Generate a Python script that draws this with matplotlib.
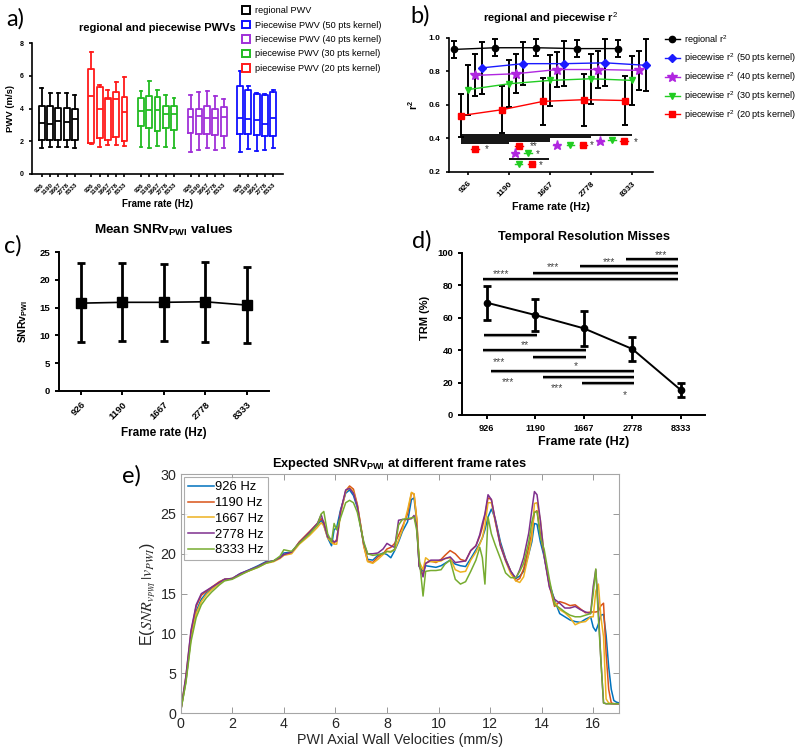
import numpy as np
import matplotlib
matplotlib.use('Agg')
import matplotlib.pyplot as plt
from matplotlib.patches import Patch
from matplotlib.lines import Line2D

plt.rcParams['font.family'] = ['Liberation Sans', 'DejaVu Sans']
plt.rcParams['mathtext.fontset'] = 'custom'
plt.rcParams['mathtext.rm'] = 'Liberation Sans'
plt.rcParams['mathtext.it'] = 'Liberation Sans:italic'
plt.rcParams['mathtext.bf'] = 'Liberation Sans:bold'

# ======================= DATA =======================
frame_rates = ['926', '1190', '1667', '2778', '8333']

# (a) box plots; axis order: regional, 20, 30, 40, 50 pts kernel (5 frame rates each)
a_groups = ['regional PWV', 'piecewise PWV (20 pts kernel)', 'piecewise PWV (30 pts kernel)',
            'Piecewise PWV (40 pts kernel)', 'Piecewise PWV (50 pts kernel)']
a_whishi = [5.25, 4.95, 4.95, 4.95, 4.80, 7.45, 5.42, 5.12, 5.62, 5.90,
            5.05, 5.66, 5.15, 4.85, 4.65, 4.81, 5.00, 5.08, 4.75, 4.60,
            6.27, 5.36, 4.95, 4.91, 5.12]
a_q3 = [4.14, 4.14, 4.05, 4.05, 4.00, 6.44, 5.32, 4.65, 5.00, 4.71,
        4.67, 4.75, 4.71, 4.14, 4.14, 3.94, 4.00, 4.14, 4.00, 4.10,
        5.36, 5.12, 4.91, 4.81, 5.02]
a_med = [3.13, 3.05, 3.25, 3.20, 3.33, 4.75, 4.00, 4.55, 4.60, 3.80,
         3.84, 3.90, 3.90, 3.65, 3.65, 3.49, 3.53, 3.43, 3.43, 3.49,
         3.39, 3.35, 3.29, 3.05, 3.39]
a_q1 = [2.07, 2.07, 2.10, 2.07, 2.07, 1.87, 2.21, 2.10, 2.23, 2.03,
        2.92, 2.82, 2.64, 2.82, 2.68, 2.52, 2.42, 2.42, 2.38, 2.31,
        2.44, 2.44, 2.38, 2.31, 2.31]
a_whislo = [1.60, 1.66, 1.66, 1.65, 1.60, 1.83, 1.66, 1.77, 1.77, 1.70,
            1.66, 1.56, 1.70, 1.66, 1.56, 1.36, 1.46, 1.60, 1.46, 1.56,
            1.36, 1.52, 1.42, 1.46, 1.56]

# (b) r^2 means and SD
b_labels = ['regional r$^2$', 'piecewise r$^2$ (50 pts kernel)', 'piecewise r$^2$ (40 pts kernel)',
            'piecewise r$^2$ (30 pts kernel)', 'piecewise r$^2$ (20 pts kernel)']
b_regional = [0.93, 0.94, 0.94, 0.935, 0.935]
b_regional_sd = [0.05, 0.05, 0.05, 0.05, 0.05]
b_pw50 = [0.82, 0.845, 0.845, 0.85, 0.835]
b_pw50_sd = [0.155, 0.13, 0.135, 0.14, 0.155]
b_pw40 = [0.775, 0.785, 0.81, 0.81, 0.805]
b_pw40_sd = [0.125, 0.115, 0.105, 0.11, 0.115]
b_pw30 = [0.69, 0.725, 0.745, 0.755, 0.745]
b_pw30_sd = [0.15, 0.14, 0.15, 0.15, 0.145]
b_pw20 = [0.535, 0.57, 0.62, 0.63, 0.625]
b_pw20_sd = [0.13, 0.14, 0.14, 0.155, 0.145]
# significance bars (y, from index, to index)
b_sig_bars = [(0.422, -0.18, 4.0), (0.409, -0.18, 3.0), (0.396, -0.18, 2.0),
              (0.383, -0.18, 2.0), (0.370, -0.18, 1.0), (0.278, 1.0, 1.96)]
# significance symbols (index, y, series-marker, colour)
b_sig_marks = [(0.17, 0.335, 's', 'red'),
               (1.24, 0.355, 's', 'red'),
               (2.16, 0.360, '*', '#b026e0'), (2.49, 0.360, 'v', '#22cc22'), (2.81, 0.360, 's', 'red'),
               (3.22, 0.385, '*', '#b026e0'), (3.50, 0.387, 'v', '#22cc22'), (3.79, 0.385, 's', 'red'),
               (1.15, 0.310, '*', '#b026e0'), (1.46, 0.310, 'v', '#22cc22'),
               (1.23, 0.246, 'v', '#22cc22'), (1.55, 0.246, 's', 'red')]
b_sig_text = [(0.45, 0.335, '*'), (1.59, 0.355, '**'), (3.02, 0.357, '*'),
              (4.08, 0.377, '*'), (1.69, 0.308, '*'), (1.76, 0.241, '*')]

# (c) mean SNRv_PWI
c_mean = [15.8, 15.95, 15.95, 16.05, 15.45]
c_upper = [22.95, 23.05, 22.9, 23.25, 22.35]
c_lower = [8.85, 9.0, 9.05, 8.85, 8.7]

# (d) temporal resolution misses
d_mean = [69.2, 61.6, 53.4, 40.7, 15.4]
d_sd = [10.5, 10.0, 10.6, 7.3, 4.1]
d_sig_bars = [(96.1, 2.87, 3.95), (91.8, 1.92, 3.95), (87.7, 0.96, 3.95), (83.6, -0.08, 3.95),
              (49.3, -0.05, 1.03), (40.0, -0.08, 2.04), (35.9, 0.96, 2.04),
              (27.3, 0.08, 3.04), (23.6, 1.15, 3.04), (19.5, 1.96, 3.04)]
d_sig_text = [(3.6, 98.5, '***'), (2.52, 94.5, '***'), (1.37, 91.0, '***'), (0.29, 87.0, '****'),
              (0.79, 43.0, '**'), (0.25, 32.5, '***'), (1.83, 30.0, '*'),
              (0.44, 20.5, '***'), (1.44, 16.5, '***'), (2.85, 12.5, '*')]

# (e) expected SNR vs velocity
e_labels = ['926 Hz', '1190 Hz', '1667 Hz', '2778 Hz', '8333 Hz']
e_vel = [0, 0.2, 0.4, 0.6, 0.8, 1.0, 1.2, 1.5, 1.7, 2.0,
         2.3, 2.6, 3.0, 3.3, 3.6, 3.85, 4.0, 4.3, 4.6, 5.0,
         5.3, 5.45, 5.55, 5.7, 5.85, 5.95, 6.05, 6.2, 6.4, 6.55,
         6.7, 6.85, 7.0, 7.1, 7.25, 7.45, 7.65, 7.85, 8.0, 8.15,
         8.3, 8.45, 8.6, 8.8, 8.95, 9.05, 9.15, 9.25, 9.4, 9.5,
         9.7, 9.9, 10.1, 10.25, 10.45, 10.65, 10.85, 11.05, 11.25, 11.45,
         11.6, 11.7, 11.8, 11.92, 12.05, 12.2, 12.4, 12.6, 12.8, 13.0,
         13.15, 13.3, 13.5, 13.62, 13.72, 13.82, 13.95, 14.1, 14.3, 14.5,
         14.7, 14.9, 15.1, 15.3, 15.5, 15.7, 15.9, 16.0, 16.1, 16.2,
         16.3, 16.4, 16.5, 16.6, 16.7, 16.8, 16.9, 17.0]
e_926 = [0.3, 4.0, 9.6, 12.8, 14.3, 15.1, 15.6, 16.4, 16.8, 16.9,
         17.5, 17.9, 18.5, 19.0, 19.1, 19.6, 20.1, 20.2, 21.4, 22.6,
         23.6, 24.2, 23.6, 22.0, 21.0, 23.0, 23.3, 25.5, 27.6, 28.0,
         27.3, 25.8, 23.0, 21.2, 19.3, 19.2, 19.8, 20.1, 19.9, 19.5,
         20.4, 21.5, 22.8, 24.0, 26.8, 27.0, 24.2, 18.4, 17.8, 18.5,
         18.4, 18.3, 18.5, 18.8, 19.2, 18.7, 18.5, 18.4, 19.4, 20.5,
         21.3, 22.0, 23.0, 24.6, 25.6, 24.4, 21.5, 19.4, 17.8, 16.9,
         17.2, 17.8, 20.0, 21.5, 23.8, 23.7, 21.5, 19.6, 16.3, 14.2,
         12.5, 12.1, 11.7, 11.5, 11.4, 11.8, 12.1, 10.8, 10.3, 11.2,
         12.3, 12.4, 9.8, 5.8, 3.0, 1.6, 1.4, 1.3]
e_1190 = [0.3, 4.5, 10.2, 13.4, 14.8, 15.3, 15.8, 16.5, 16.8, 16.9,
          17.4, 17.8, 18.4, 18.9, 19.1, 19.5, 19.9, 20.1, 21.5, 22.8,
          23.8, 24.4, 24.0, 22.2, 21.5, 21.3, 21.8, 25.2, 27.9, 28.5,
          28.1, 26.2, 23.2, 21.0, 19.1, 18.9, 19.6, 20.0, 20.6, 20.8,
          21.3, 22.3, 23.4, 25.0, 27.6, 27.5, 24.5, 18.5, 17.3, 18.8,
          19.1, 18.9, 19.3, 19.8, 20.4, 20.0, 19.3, 19.1, 20.4, 21.0,
          22.2, 23.3, 24.8, 27.0, 26.8, 24.2, 21.2, 19.3, 17.8, 16.6,
          16.9, 18.1, 20.8, 22.6, 25.2, 25.4, 22.5, 19.8, 16.0, 13.4,
          14.0, 13.8, 13.5, 13.6, 13.1, 12.6, 12.7, 12.7, 12.7, 12.8,
          13.5, 13.8, 7.5, 3.0, 1.3, 1.2, 1.2, 1.2]
e_1667 = [0.3, 4.0, 9.4, 12.5, 14.0, 14.9, 15.5, 16.3, 16.7, 16.9,
          17.4, 17.8, 18.3, 18.8, 19.0, 19.4, 19.8, 20.0, 21.2, 22.3,
          23.3, 23.9, 23.5, 22.0, 21.4, 21.2, 21.2, 25.0, 27.8, 28.3,
          27.8, 26.1, 23.2, 21.0, 19.0, 18.8, 19.3, 19.9, 20.3, 20.3,
          20.5, 21.7, 23.0, 25.5, 27.7, 27.5, 24.5, 19.0, 18.0, 19.5,
          19.0, 19.0, 19.1, 19.4, 19.5, 18.0, 17.7, 17.8, 19.2, 20.2,
          21.2, 22.0, 23.5, 26.4, 26.4, 24.0, 21.0, 19.1, 17.5, 16.6,
          16.4, 17.1, 20.0, 22.0, 26.3, 26.4, 24.2, 19.8, 16.0, 14.0,
          13.0, 12.6, 12.0, 11.1, 11.4, 11.5, 12.1, 12.1, 15.3, 16.2,
          12.0, 9.6, 1.8, 1.3, 1.2, 1.2, 1.2, 1.2]
e_2778 = [0.3, 4.6, 10.4, 13.6, 15.0, 15.4, 15.8, 16.4, 16.8, 16.9,
          17.5, 17.9, 18.4, 18.9, 19.1, 19.5, 19.9, 20.2, 21.4, 22.7,
          23.8, 24.9, 23.8, 22.1, 21.8, 21.5, 21.6, 25.3, 28.0, 28.2,
          27.6, 26.0, 23.0, 21.3, 20.0, 20.0, 20.1, 20.6, 21.3, 21.0,
          20.8, 24.2, 24.3, 24.3, 24.4, 24.8, 23.5, 18.5, 17.1, 18.8,
          19.2, 19.2, 19.2, 19.4, 19.6, 18.9, 19.0, 19.1, 20.4, 21.0,
          22.4, 23.8, 25.0, 27.4, 26.8, 24.2, 21.0, 19.2, 17.8, 16.9,
          18.0, 19.5, 22.6, 25.5, 27.8, 27.4, 24.2, 19.6, 15.8, 14.3,
          13.8, 13.2, 13.2, 13.4, 13.0, 12.7, 12.5, 15.9, 18.0, 13.0,
          6.5, 1.3, 1.2, 1.2, 1.2, 1.2, 1.2, 1.2]
e_8333 = [0.3, 3.8, 9.0, 12.0, 13.6, 14.5, 15.2, 16.1, 16.6, 16.8,
          17.3, 17.8, 18.3, 18.8, 19.1, 19.7, 20.5, 20.3, 21.3, 22.5,
          23.6, 25.0, 25.3, 22.5, 21.5, 23.8, 23.0, 24.5, 26.4, 26.7,
          26.4, 25.2, 23.0, 21.5, 20.0, 19.8, 19.9, 20.0, 20.3, 20.2,
          20.6, 23.6, 24.3, 24.4, 24.5, 24.6, 23.0, 19.5, 14.7, 17.8,
          17.9, 17.9, 18.0, 18.7, 19.2, 16.8, 16.2, 16.5, 17.8, 19.2,
          20.8, 19.5, 16.2, 24.6, 22.5, 21.1, 19.4, 17.6, 17.0, 17.0,
          17.8, 18.8, 21.5, 24.0, 25.2, 25.3, 22.1, 20.5, 16.8, 13.6,
          13.2, 12.7, 12.3, 12.1, 12.1, 12.3, 12.5, 15.0, 18.1, 12.0,
          6.5, 1.3, 1.2, 1.2, 1.2, 1.2, 1.2, 1.2]

# ======================= FIGURE =======================
W, H = 800, 754
fig = plt.figure(figsize=(W / 100, H / 100), dpi=100)


def px_axes(l, t, r, b):
    return fig.add_axes([l / W, 1 - b / H, (r - l) / W, (b - t) / H])


def prism(ax, lw=1.3, ticklen=3):
    for s in ['top', 'right']:
        ax.spines[s].set_visible(False)
    for s in ['left', 'bottom']:
        ax.spines[s].set_linewidth(lw)
    ax.tick_params(direction='out', width=lw, length=ticklen)


def bold_ticks(ax):
    for lab in ax.get_xticklabels() + ax.get_yticklabels():
        lab.set_fontweight('bold')


def panel_label(x, y, s):
    fig.text(x / W, 1 - y / H, s, fontsize=17, family='Lato', ha='center', va='center')


# ---------------- (a) ----------------
axA = px_axes(32, 43, 283, 174)
a_colors = ['black', '#ff1a1a', '#22bb22', '#a030d8', '#1010ff']
for g in range(5):
    stats = []
    for j in range(5):
        k = g * 5 + j
        stats.append(dict(med=a_med[k], q1=a_q1[k], q3=a_q3[k],
                          whislo=a_whislo[k], whishi=a_whishi[k], fliers=[]))
    c = a_colors[g]
    lp = dict(color=c, lw=1.3)
    axA.bxp(stats, positions=[g * 6 + j for j in range(5)], widths=0.72, showfliers=False,
            boxprops=lp, whiskerprops=lp, capprops=lp, medianprops=lp)
prism(axA, lw=1.2, ticklen=2.5)
axA.set_xlim(-1.2, 29.2)
axA.set_ylim(0, 8)
axA.set_yticks([0, 2, 4, 6, 8])
axA.set_xticks([g * 6 + j for g in range(5) for j in range(5)])
axA.set_xticklabels(frame_rates * 5, rotation=45, ha='right', rotation_mode='anchor', fontsize=4.6)
axA.tick_params(axis='y', labelsize=5)
bold_ticks(axA)
axA.set_ylabel('PWV (m/s)', fontsize=6.8, fontweight='bold', labelpad=3)
axA.set_xlabel('Frame rate (Hz)', fontsize=7, fontweight='bold', labelpad=2)
axA.set_title('regional and piecewise PWVs', fontsize=8, fontweight='bold', pad=9, x=0.5)
leg_order = [0, 4, 3, 2, 1]
a_handles = [Patch(facecolor='white', edgecolor=a_colors[i], lw=1.4) for i in leg_order]
fig.legend(a_handles, [a_groups[i] for i in leg_order], loc='upper left',
           bbox_to_anchor=(242 / W, 1 - 6 / H), fontsize=6.6, frameon=False,
           handlelength=0.9, handleheight=0.9, handletextpad=0.5, labelspacing=0.6,
           borderpad=0, borderaxespad=0)
panel_label(15, 19, 'a)')

# ---------------- (b) ----------------
axB = px_axes(449, 37.7, 653, 171.7)
xb = np.arange(5)
b_series = [(b_regional, b_regional_sd, 'black', 'o', -0.34, 4.5),
            (b_pw50, b_pw50_sd, '#1a1aff', 'D', 0.34, 4.0),
            (b_pw40, b_pw40_sd, '#b026e0', '*', 0.17, 7.0),
            (b_pw30, b_pw30_sd, '#22cc22', 'v', 0.0, 5.0),
            (b_pw20, b_pw20_sd, 'red', 's', -0.17, 4.5)]
b_handles = []
for (vals, sd, col, mk, off, ms) in b_series:
    axB.errorbar(xb + off, vals, yerr=sd, fmt='none', ecolor='black', elinewidth=1.4,
                 capsize=2.2, capthick=1.4, zorder=2)
    axB.plot(xb + off, vals, color=col, lw=1.0, zorder=3)
    axB.plot(xb + off, vals, ls='none', marker=mk, ms=ms, color=col, zorder=4)
    b_handles.append(Line2D([], [], color=col, marker=mk, ms=ms, lw=1.0))
for (yy, x0, x1) in b_sig_bars:
    axB.plot([x0, x1], [yy, yy], color='black', lw=1.3, solid_capstyle='butt', zorder=3)
for (xx, yy, mk, col) in b_sig_marks:
    axB.plot([xx - 0.09, xx + 0.09], [yy, yy], color=col, lw=1.0, zorder=3)
    axB.plot([xx], [yy], marker=mk, color=col, ms=6.5 if mk == '*' else 4.2, zorder=4)
for (xx, yy, t) in b_sig_text:
    axB.text(xx, yy, t, fontsize=7, color='#333333', ha='center', va='center')
prism(axB, lw=1.2, ticklen=2.5)
axB.set_xlim(-0.46, 4.5)
axB.set_ylim(0.2, 1.0)
axB.set_yticks([0.2, 0.4, 0.6, 0.8, 1.0])
axB.set_yticklabels(['0.2', '0.4', '0.6', '0.8', '1.0'])
axB.set_xticks(xb)
axB.set_xticklabels(frame_rates, rotation=45, ha='right', rotation_mode='anchor', fontsize=6)
axB.tick_params(axis='y', labelsize=6)
bold_ticks(axB)
axB.set_ylabel('r$^\\mathbf{2}$', fontsize=7.5, fontweight='bold', labelpad=6)
axB.set_xlabel('Frame rate (Hz)', fontsize=7.7, fontweight='bold', labelpad=3)
axB.set_title('regional and piecewise r$^2$', fontsize=8, fontweight='bold', pad=11)
fig.legend(b_handles, b_labels, loc='upper left', bbox_to_anchor=(665 / W, 1 - 33 / H),
           fontsize=6.6, frameon=False, handlelength=1.6, handletextpad=0.5,
           labelspacing=0.55, borderpad=0, borderaxespad=0)
panel_label(420, 16, 'b)')

# ---------------- (c) ----------------
axC = px_axes(59.3, 252, 269, 391)
xc = np.arange(5)
c_err = [np.array(c_mean) - np.array(c_lower), np.array(c_upper) - np.array(c_mean)]
axC.errorbar(xc, c_mean, yerr=c_err, color='black', lw=1.2, elinewidth=2.0, capsize=3,
             capthick=2.0, marker='s', ms=6.5)
prism(axC, lw=1.4, ticklen=3)
axC.set_xlim(-0.52, 4.54)
axC.set_ylim(0, 25)
axC.set_yticks([0, 5, 10, 15, 20, 25])
axC.set_xticks(xc)
axC.set_xticklabels(frame_rates, rotation=45, ha='right', rotation_mode='anchor', fontsize=6.8)
axC.tick_params(axis='y', labelsize=6.8)
bold_ticks(axC)
axC.set_ylabel('SNRv$_\\mathbf{PWI}$', fontsize=7.5, fontweight='bold', labelpad=7)
axC.set_xlabel('Frame rate (Hz)', fontsize=8.5, fontweight='bold', labelpad=4)
axC.set_title('Mean SNRv$_\\mathbf{PWI}$ values', fontsize=9.7, fontweight='bold', pad=13)
panel_label(13, 246, 'c)')

# ---------------- (d) ----------------
axD = px_axes(462, 252.7, 705, 415)
xd = np.arange(5)
axD.errorbar(xd, d_mean, yerr=d_sd, color='black', lw=1.4, elinewidth=2.0, capsize=3,
             capthick=2.0, marker='o', ms=4.5, zorder=4)
for (yy, x0, x1) in d_sig_bars:
    axD.plot([x0, x1], [yy - 0.6, yy - 0.6], color='#aaaaaa', lw=1.6, solid_capstyle='butt', zorder=2)
    axD.plot([x0, x1], [yy, yy], color='black', lw=1.7, solid_capstyle='butt', zorder=3)
for (xx, yy, t) in d_sig_text:
    axD.text(xx, yy, t, fontsize=7.5, color='#444444', ha='center', va='center')
prism(axD, lw=1.4, ticklen=3)
axD.set_xlim(-0.51, 4.5)
axD.set_ylim(0, 100)
axD.set_yticks([0, 20, 40, 60, 80, 100])
axD.set_xticks(xd)
axD.set_xticklabels(frame_rates, fontsize=6.6)
axD.tick_params(axis='y', labelsize=6.8)
bold_ticks(axD)
axD.set_ylabel('TRM (%)', fontsize=8, fontweight='bold', labelpad=4)
axD.yaxis.set_label_coords(-0.13, 0.6)
axD.set_xlabel('Frame rate (Hz)', fontsize=9, fontweight='bold', labelpad=2)
axD.set_title('Temporal Resolution Misses', fontsize=9.2, fontweight='bold', pad=9)
panel_label(422, 241, 'd)')

# ---------------- (e) ----------------
axE = px_axes(180.7, 474, 619, 713.3)
e_colors = ['#0072BD', '#D95319', '#EDB120', '#7E2F8E', '#77AC30']
for lab, col, ys in zip(e_labels, e_colors, [e_926, e_1190, e_1667, e_2778, e_8333]):
    axE.plot(e_vel, ys, color=col, lw=1.1, label=lab)
axE.set_xlim(0, 17)
axE.set_ylim(0, 30)
axE.set_xticks(range(0, 17, 2))
axE.set_yticks(range(0, 31, 5))
axE.tick_params(direction='in', top=True, right=True, length=4, width=0.6,
                color='#888888', labelcolor='#262626', labelsize=10.3, pad=3)
for s in axE.spines.values():
    s.set_color('#a6a6a6')
    s.set_linewidth(0.8)
axE.set_xlabel('PWI Axial Wall Velocities (mm/s)', fontsize=10.3, color='#262626', labelpad=1)
axE.set_ylabel(r'E($SNR_{v_{PWI}}\,|v_{PWI}$)', fontsize=11.5, color='#262626',
               math_fontfamily='stix', labelpad=2)
axE.set_title('Expected SNRv$_\\mathbf{PWI}$ at different frame rates', fontsize=9.2,
              fontweight='bold', pad=5)
legE = axE.legend(loc='upper left', fontsize=9.4, frameon=True, fancybox=False,
                  handlelength=2.0, handletextpad=0.1, labelspacing=0.28,
                  borderpad=0.3, borderaxespad=0.25)
legE.get_frame().set_edgecolor('#999999')
legE.get_frame().set_linewidth(0.8)
panel_label(131, 476, 'e)')

fig.savefig('out.png', dpi=100)
